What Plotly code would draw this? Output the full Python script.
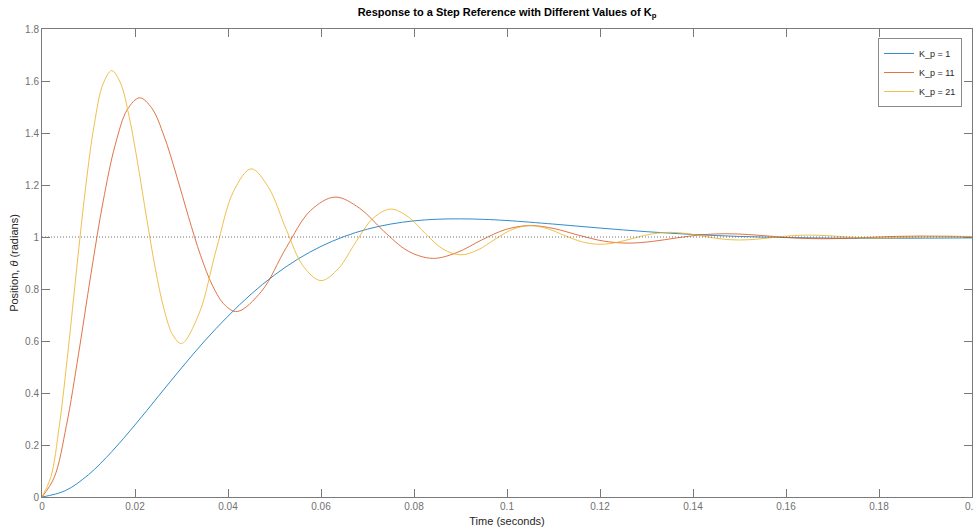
import plotly.graph_objects as go

# ---- data ----
t_kp1 = [0, 0.005, 0.01, 0.015, 0.02, 0.025, 0.03, 0.035, 0.04, 0.045, 0.05, 0.055, 0.06,
         0.065, 0.07, 0.075, 0.08, 0.085, 0.09, 0.095, 0.1, 0.11, 0.12, 0.13, 0.14, 0.15,
         0.16, 0.17, 0.18, 0.19, 0.2]
y_kp1 = [0, 0.0242, 0.0859, 0.1742, 0.2773, 0.3870, 0.4962, 0.6007, 0.6955, 0.7808, 0.8538,
         0.9149, 0.9639, 1.0020, 1.0303, 1.0498, 1.0621, 1.0684, 1.0698, 1.0679, 1.0633,
         1.0497, 1.0344, 1.0205, 1.0097, 1.0022, 0.9977, 0.9956, 0.9951, 0.9956, 0.9966]

t_kp11 = [0, 0.002625, 0.00525, 0.007875, 0.0105, 0.013125, 0.01575, 0.018375, 0.021,
          0.023625, 0.02625, 0.028875, 0.0315, 0.034125, 0.03675, 0.039375, 0.042,
          0.04725, 0.0525, 0.05775, 0.063, 0.06825, 0.0735, 0.07875, 0.084, 0.08925,
          0.0945, 0.09975, 0.105, 0.11025, 0.1155, 0.12075, 0.126, 0.13125, 0.1365,
          0.14175, 0.147, 0.15225, 0.1575, 0.16275, 0.168, 0.17325, 0.1785, 0.18375,
          0.189, 0.19425, 0.1995, 0.2]
y_kp11 = [0, 0.0751, 0.2748, 0.5519, 0.8545, 1.1346, 1.3545, 1.4908, 1.5354, 1.4952,
          1.3883, 1.2399, 1.0779, 0.9279, 0.8102, 0.7373, 0.7134, 0.7921, 0.9583, 1.1016,
          1.1535, 1.1113, 1.0223, 0.9456, 0.9178, 0.9404, 0.9880, 1.0291, 1.0440, 1.0319,
          1.0064, 0.9844, 0.9765, 0.9829, 0.9966, 1.0083, 1.0126, 1.0091, 1.0018, 0.9955,
          0.9933, 0.9951, 0.9990, 1.0024, 1.0036, 1.0026, 1.0005, 1.0003]

t_kp21 = [0, 0.001875, 0.00375, 0.005625, 0.0075, 0.009375, 0.01125, 0.013125, 0.015,
          0.016875, 0.01875, 0.020625, 0.0225, 0.024375, 0.02625, 0.028125, 0.03,
          0.03375, 0.0375, 0.04125, 0.045, 0.04875, 0.0525, 0.05625, 0.06, 0.06375,
          0.0675, 0.07125, 0.075, 0.07875, 0.0825, 0.08625, 0.09, 0.09375, 0.0975,
          0.10125, 0.105, 0.10875, 0.1125, 0.11625, 0.12, 0.12375, 0.1275, 0.13125,
          0.135, 0.13875, 0.1425, 0.14625, 0.15, 0.15375, 0.1575, 0.16125, 0.165,
          0.16875, 0.1725, 0.17625, 0.18, 0.18375, 0.1875, 0.19125, 0.195, 0.19875, 0.2]
y_kp21 = [0, 0.0749, 0.2777, 0.5653, 0.8864, 1.1903, 1.4341, 1.5884, 1.6400, 1.5921,
          1.4623, 1.2782, 1.0727, 0.8782, 0.7221, 0.6234, 0.5904, 0.7042, 0.9535, 1.1778,
          1.2621, 1.1893, 1.0298, 0.8862, 0.8322, 0.8788, 0.9809, 1.0728, 1.1074, 1.0776,
          1.0122, 0.9534, 0.9313, 0.9504, 0.9922, 1.0298, 1.0440, 1.0318, 1.0050, 0.9809,
          0.9719, 0.9797, 0.9968, 1.0122, 1.0180, 1.0130, 1.0020, 0.9922, 0.9885, 0.9917,
          0.9987, 1.0050, 1.0074, 1.0053, 1.0008, 0.9968, 0.9953, 0.9966, 0.9995, 1.0021,
          1.0030, 1.0022, 1.0016]

ref_t = [0, 0.2]
ref_y = [1, 1]

series_names = ["K_p = 1", "K_p = 11", "K_p = 21"]
x_ticks = [0, 0.02, 0.04, 0.06, 0.08, 0.1, 0.12, 0.14, 0.16, 0.18, 0.2]
y_ticks = [0, 0.2, 0.4, 0.6, 0.8, 1, 1.2, 1.4, 1.6, 1.8]

colors = ["#0072BD", "#D95319", "#EDB120"]
FONT = "Liberation Sans, Arial, Helvetica, sans-serif"
AXIS_GRAY = "#7a7a7a"

fig = go.Figure()
for tt, yy, name, c in zip([t_kp1, t_kp11, t_kp21], [y_kp1, y_kp11, y_kp21], series_names, colors):
    fig.add_trace(go.Scatter(x=tt, y=yy, mode="lines", name=name, opacity=0.8,
                             line=dict(color=c, width=1, shape="spline", smoothing=1)))

fig.add_trace(go.Scatter(x=ref_t, y=ref_y, mode="lines", showlegend=False,
                         line=dict(color="#707070", width=1, dash="1px,2px"), hoverinfo="skip"))

fig.update_layout(
    width=974, height=529,
    margin=dict(l=42, r=2, t=29, b=32, autoexpand=False),
    paper_bgcolor="white", plot_bgcolor="white",
    font=dict(family=FONT, size=10, color="#262626"),
    title=dict(text="<b>Response to a Step Reference with Different Values of K<sub>p</sub></b>",
               x=0.5, xref="paper", y=1 - 12 / 529, yref="container", yanchor="middle",
               font=dict(family=FONT, size=11, color="#000000")),
    showlegend=True,
    legend=dict(x=(962 - 42) / 930, xanchor="right", y=(497 - 38) / 468, yanchor="top",
                bgcolor="white", bordercolor="#8a8a8a", borderwidth=1,
                font=dict(family=FONT, size=9, color="#262626"),
                tracegroupgap=0, itemwidth=30),
    xaxis=dict(range=[0, 0.2], tickvals=x_ticks, ticktext=[f"{v:g}" for v in x_ticks],
               ticks="inside", ticklen=8, tickcolor=AXIS_GRAY, showline=True,
               linecolor=AXIS_GRAY, linewidth=1, mirror="ticks", showgrid=False,
               zeroline=False, automargin=False, ticklabeloverflow="allow",
               tickfont=dict(size=10, color="#707070"),
               title=dict(text="Time (seconds)", standoff=6,
                          font=dict(size=11, color="#262626"))),
    yaxis=dict(range=[0, 1.8], tickvals=y_ticks, ticktext=[f"{v:g}" for v in y_ticks],
               ticks="inside", ticklen=8, tickcolor=AXIS_GRAY, showline=True,
               linecolor=AXIS_GRAY, linewidth=1, mirror="ticks", showgrid=False,
               zeroline=False, automargin=False, tickfont=dict(size=10, color="#707070"),
               title=dict(text="Position, <i>θ</i> (radians)", standoff=4,
                          font=dict(size=11, color="#262626"))),
)

fig.write_html("out.html", config={"displayModeBar": False},
               post_script="document.body.style.margin='0';document.body.style.overflow='hidden';")
